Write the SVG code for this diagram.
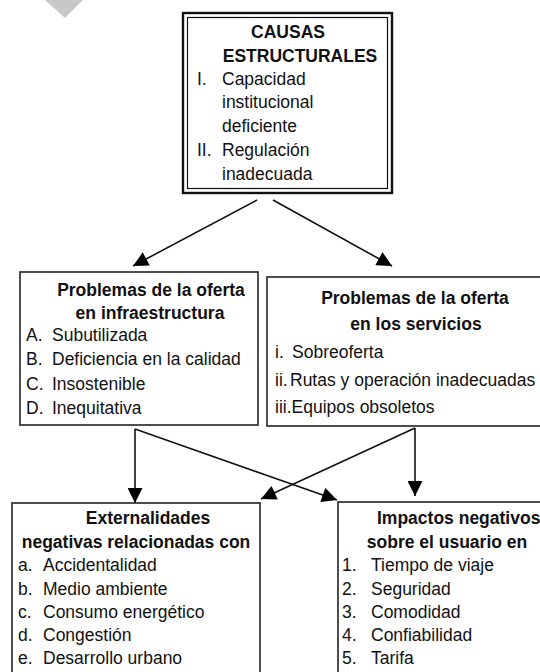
<svg xmlns="http://www.w3.org/2000/svg" width="540" height="672" viewBox="0 0 540 672">
<defs>
<style>
text{font-family:"Liberation Sans",Arial,sans-serif;font-size:17.5px;fill:#111}
.b{font-weight:bold}
.box{fill:#fff;stroke:#222;stroke-width:1.6}
.ln{stroke:#111;stroke-width:1.6;fill:none}
</style>
<marker id="ah" viewBox="0 0 10 10" refX="10" refY="5" markerWidth="17" markerHeight="15" markerUnits="userSpaceOnUse" orient="auto">
<path d="M0,0 L10,5 L0,10 z" fill="#000"/>
</marker>
</defs>
<rect width="540" height="672" fill="#fff"/>
<polygon points="45,0 83,0 65,18" fill="#c8c8c8"/>

<g id="connectors">
<line class="ln" x1="257" y1="200" x2="133" y2="266" marker-end="url(#ah)"/>
<line class="ln" x1="273" y1="200" x2="392" y2="266" marker-end="url(#ah)"/>
<line class="ln" x1="135" y1="429" x2="135" y2="503" marker-end="url(#ah)"/>
<line class="ln" x1="135" y1="429" x2="337" y2="500" marker-end="url(#ah)"/>
<line class="ln" x1="415" y1="428" x2="415" y2="496" marker-end="url(#ah)"/>
<line class="ln" x1="415" y1="428" x2="261" y2="499" marker-end="url(#ah)"/>
</g>

<g id="causas">
<rect x="183" y="13" width="209" height="180" fill="#fff" stroke="#111" stroke-width="2.4"/>
<rect x="187.5" y="17.5" width="200" height="171" fill="none" stroke="#111" stroke-width="1.2"/>
<text class="b" x="288" y="38" text-anchor="middle">CAUSAS</text>
<text class="b" x="300" y="62" text-anchor="middle">ESTRUCTURALES</text>
<text x="197" y="85">I.</text><text x="222" y="85">Capacidad</text>
<text x="222" y="108">institucional</text>
<text x="222" y="132">deficiente</text>
<text x="197" y="156">II.</text><text x="222" y="156">Regulación</text>
<text x="222" y="180">inadecuada</text>
</g>

<g id="infraestructura">
<rect class="box" x="20" y="272" width="238" height="153"/>
<text class="b" x="151" y="296" text-anchor="middle">Problemas de la oferta</text>
<text class="b" x="150" y="319" text-anchor="middle">en infraestructura</text>
<text x="26" y="341">A.</text><text x="52" y="341">Subutilizada</text>
<text x="26" y="365">B.</text><text x="52" y="365">Deficiencia en la calidad</text>
<text x="26" y="390">C.</text><text x="52" y="390">Insostenible</text>
<text x="26" y="414">D.</text><text x="52" y="414">Inequitativa</text>
</g>

<g id="servicios">
<rect class="box" x="267" y="277" width="280" height="149"/>
<text class="b" x="415" y="304" text-anchor="middle">Problemas de la oferta</text>
<text class="b" x="416" y="330" text-anchor="middle">en los servicios</text>
<text x="275" y="358">i.</text><text x="292" y="358">Sobreoferta</text>
<text x="275" y="386">ii.</text><text x="290" y="386">Rutas y operación inadecuadas</text>
<text x="275" y="413">iii.Equipos obsoletos</text>
</g>

<g id="externalidades">
<rect class="box" x="12" y="503" width="248" height="180"/>
<text class="b" x="148" y="524" text-anchor="middle">Externalidades</text>
<text class="b" x="136" y="548" text-anchor="middle">negativas relacionadas con</text>
<text x="18" y="571">a.</text><text x="43" y="571">Accidentalidad</text>
<text x="18" y="595">b.</text><text x="43" y="595">Medio ambiente</text>
<text x="18" y="618">c.</text><text x="43" y="618">Consumo energético</text>
<text x="18" y="641">d.</text><text x="43" y="641">Congestión</text>
<text x="18" y="664">e.</text><text x="43" y="664">Desarrollo urbano</text>
</g>

<g id="impactos">
<rect class="box" x="338" y="502" width="210" height="180"/>
<text class="b" x="377" y="524">Impactos negativos</text>
<text class="b" x="447" y="548" text-anchor="middle">sobre el usuario en</text>
<text x="342" y="571">1.</text><text x="371" y="571">Tiempo de viaje</text>
<text x="342" y="595">2.</text><text x="371" y="595">Seguridad</text>
<text x="342" y="618">3.</text><text x="371" y="618">Comodidad</text>
<text x="342" y="641">4.</text><text x="371" y="641">Confiabilidad</text>
<text x="342" y="664">5.</text><text x="371" y="664">Tarifa</text>
</g>
</svg>
